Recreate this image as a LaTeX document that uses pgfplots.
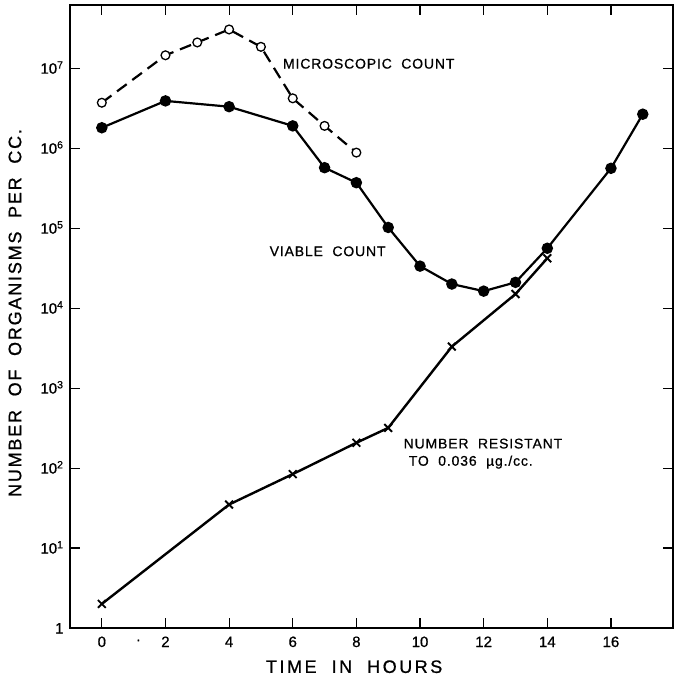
\documentclass[border=0pt]{standalone}
\usepackage{fontspec}
\setmainfont{Liberation Sans}[FakeBold=0.7]
\newfontfamily\annfont{Liberation Sans}[LetterSpace=6, FakeBold=0.7]
\newfontfamily\labfont{Liberation Sans}[LetterSpace=14, FakeBold=0.8]
\newfontfamily\ylabfont{Liberation Sans}[LetterSpace=10, FakeBold=0.8]
\usepackage{pgfplots}
\pgfplotsset{compat=1.18}

% Growth of organisms: microscopic count, viable count, resistant count
\pgfplotstableread{
t   n
0   3.7e6
2   1.45e7
3   2.1e7
4   3.05e7
5   1.85e7
6   4.2e6
7   1.9e6
8   8.8e5
}\microscopic

\pgfplotstableread{
t   n
0   1.8e6
2   3.9e6
4   3.3e6
6   1.9e6
7   5.7e5
8   3.7e5
9   1.02e5
10  3.35e4
11  2.0e4
12  1.63e4
13  2.1e4
14  5.6e4
16  5.6e5
17  2.66e6
}\viable

\pgfplotstableread{
t   n
0   2.0
4   35
6   84
8   207
9   318
11  3.3e3
13  1.5e4
14  4.2e4
}\resistant

\begin{document}
\begin{tikzpicture}
\begin{axis}[
  scale only axis, width=603bp, height=623bp,
  ymode=log,
  xmin=-1, xmax=17.95, ymin=1, ymax=6.17e7,
  axis line style={line width=1.3bp},
  tick style={line width=1.1bp, black},
  tick align=inside, major tick length=10bp,
  tick pos=both,
  xtick={0,2,...,16},
  ytick={1,10,100,1000,10000,100000,1000000,10000000},
  yticklabels={1,10\textsuperscript{1},10\textsuperscript{2},10\textsuperscript{3},10\textsuperscript{4},10\textsuperscript{5},10\textsuperscript{6},10\textsuperscript{7}},
  yminorticks=false, xminorticks=false,
  xticklabel style={font=\fontsize{15bp}{17bp}\selectfont, anchor=base, yshift=-19bp},
  yticklabel style={font=\fontsize{15bp}{17bp}\selectfont, anchor=base east, xshift=-3bp, yshift=-5.5bp},
  /pgf/number format/assume math mode=true,
  clip=false,
]
\coordinate (sw) at (rel axis cs:0,0);
\coordinate (ne) at (rel axis cs:1,1);

\addplot[black, line width=2.4bp, mark=x, mark size=5.5bp, mark options={line width=1.9bp}]
  table[x=t, y=n] {\resistant};
\addplot[black, line width=2.2bp, dash pattern=on 12bp off 7bp, mark=*, mark size=4.4bp,
  mark options={solid, fill=white, draw=black, line width=1.3bp}]
  table[x=t, y=n] {\microscopic};
\addplot[black, line width=2.2bp, mark=*, mark size=4.6bp, mark options={solid, fill=black}]
  table[x=t, y=n] {\viable};

\node[anchor=base west, inner sep=0, font=\annfont\fontsize{14bp}{16bp}\selectfont]
  at (axis cs:5.69,9.9e6) {MICROSCOPIC\ \ COUNT};
\node[anchor=base west, inner sep=0, font=\annfont\fontsize{14bp}{16bp}\selectfont]
  at (axis cs:5.27,4.47e4) {VIABLE\ \ COUNT};
\node[anchor=base west, inner sep=0, font=\annfont\fontsize{14bp}{16bp}\selectfont]
  at (axis cs:9.48,176) {NUMBER\ \ RESISTANT};
\node[anchor=base west, inner sep=0, font=\annfont\fontsize{14bp}{16bp}\selectfont]
  at (axis cs:9.64,107) {TO\ \ 0.036\ \ µg./cc.};

\node[inner sep=0, font=\fontsize{14bp}{16bp}\selectfont]
  at ([yshift=-14bp]axis cs:1.15,1) {·};

\node[inner sep=0, font=\labfont\fontsize{18bp}{20bp}\selectfont]
  at ([yshift=-38.7bp]axis cs:7.93,1) {TIME\ \ IN\ \ HOURS};
\node[inner sep=0, rotate=90, font=\ylabfont\fontsize{18bp}{20bp}\selectfont]
  at ([xshift=-55bp]rel axis cs:0,0.5056) {NUMBER\ \ OF\ \ ORGANISMS\ \ PER\ \ CC.};
\end{axis}
\pgfresetboundingbox
\path ([shift={(-70bp,-49bp)}]sw) rectangle ([shift={(2bp,5bp)}]ne);
\end{tikzpicture}
\end{document}
